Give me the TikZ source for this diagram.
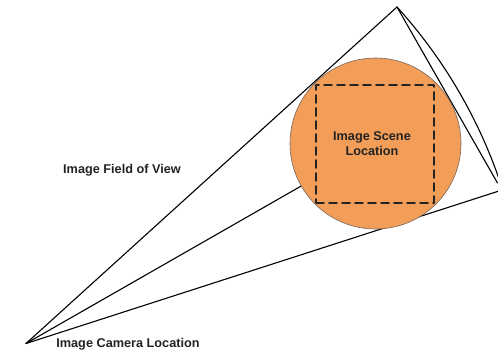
\documentclass[tikz,border=0pt]{standalone}
\usepackage{fontspec}
\setmainfont{Liberation Sans}
\definecolor{sceneorange}{RGB}{243,158,88}
\definecolor{sceneedge}{RGB}{120,100,90}
\definecolor{txt}{RGB}{35,35,35}
\begin{document}
\begin{tikzpicture}[x=1pt,y=-1pt,line cap=round,line join=round]
\tikzset{
  ray/.style={draw=black,line width=1.1pt},
  scenedisk/.style={circle,fill=sceneorange,draw=sceneedge,line width=0.6pt,inner sep=0pt,minimum size=171pt},
  scenebox/.style={rectangle,draw=txt,line width=1.8pt,dash pattern=on 8pt off 5pt,inner sep=0pt,minimum size=118pt},
  lbl/.style={font=\bfseries\fontsize{12.7}{15}\selectfont,text=txt,align=center,inner sep=0pt}
}
\useasboundingbox (0,0) rectangle (498,352);
\coordinate (cam) at (26,343.5);
\coordinate (top) at (397,7);
\coordinate (rgt) at (497.5,183);
\coordinate (bot) at (499,191);
\coordinate (ctr) at (375.5,143.5);
\draw[ray] (cam) -- (top);
\draw[ray] (cam) -- (ctr);
\draw[ray] (cam) -- (bot);
\draw[ray] (top) -- (rgt);
\draw[ray] (top) arc[start angle=-42.2,end angle=-17,radius=500.9];
\node[scenedisk] (disk) at (ctr) {};
\node[scenebox] (box) at (375,144) {};
\node[lbl] (scenetxt) at (372,144) {Image Scene\\Location};
\node[lbl] (fovtxt) at (122,170.5) {Image Field of View};
\node[lbl] (camtxt) at (128,344.5) {Image Camera Location};
\end{tikzpicture}
\end{document}
